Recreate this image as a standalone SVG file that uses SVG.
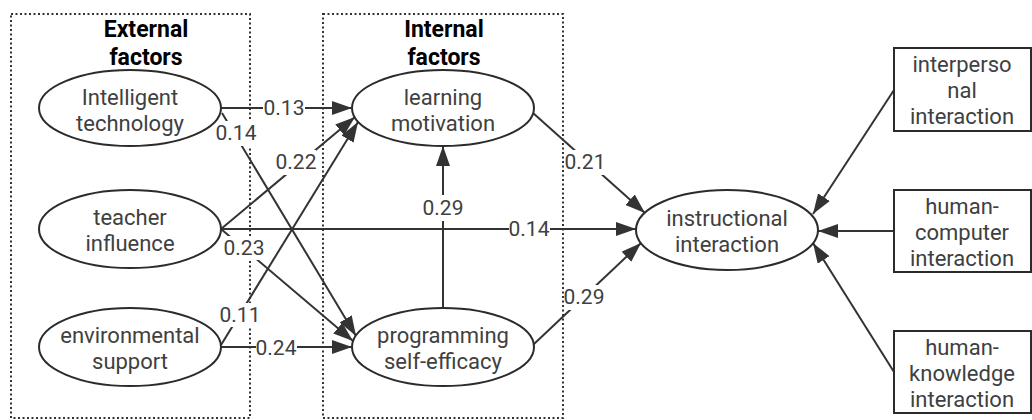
<svg xmlns="http://www.w3.org/2000/svg" width="1032" height="420" viewBox="0 0 1032 420">
<style>
.grp{fill:none;stroke:#333;stroke-width:2;stroke-dasharray:2 2.5}
.title{font-family:Roboto,"Open Sans",sans-serif;font-weight:bold;font-size:23px;fill:#000;text-anchor:middle}
.node ellipse,.node rect{fill:#fff;stroke:#2b2b2b;stroke-width:2}
.node text{font-family:Roboto,"Open Sans",sans-serif;font-size:22px;fill:#404040;text-anchor:middle}
.edge{stroke:#333;stroke-width:2;fill:none;marker-end:url(#ah)}
.lbl rect{fill:#fff;stroke:none}
.lbl text{font-family:Roboto,"Open Sans",sans-serif;font-size:21px;fill:#404040;text-anchor:middle}
</style>
<defs>
<marker id="ah" markerUnits="userSpaceOnUse" markerWidth="21" markerHeight="14" refX="20" refY="7" orient="auto">
<path d="M0,0 L20,7 L0,14 z" fill="#333"/>
</marker>
</defs>
<rect width="1032" height="420" fill="#fff"/>
<g id="groups">
<rect class="grp" x="11" y="14" width="239" height="404"/>
<rect class="grp" x="323" y="14" width="240" height="404"/>
<text class="title" x="146" y="37">External<tspan x="146" dy="28">factors</tspan></text>
<text class="title" x="444" y="37">Internal<tspan x="444" dy="28">factors</tspan></text>
</g>
<g id="connectors">
<line class="edge" x1="221" y1="108" x2="352" y2="108"/>
<line class="edge" x1="222" y1="113" x2="356" y2="336"/>
<line class="edge" x1="221" y1="229" x2="355" y2="117"/>
<line class="edge" x1="221" y1="345" x2="358" y2="122"/>
<line class="edge" x1="221" y1="347" x2="352" y2="347"/>
<line class="edge" x1="221" y1="229" x2="353" y2="341"/>
<line class="edge" x1="221" y1="229" x2="636" y2="229"/>
<line class="edge" x1="443" y1="308" x2="443" y2="146"/>
<line class="edge" x1="533" y1="113" x2="645" y2="213"/>
<line class="edge" x1="534" y1="344" x2="641" y2="243"/>
<line class="edge" x1="894" y1="90" x2="813" y2="214"/>
<line class="edge" x1="894" y1="231" x2="818" y2="231"/>
<line class="edge" x1="894" y1="372" x2="813" y2="243"/>
</g>
<g id="labels" class="lbl">
<rect x="263" y="97" width="42" height="22"/><text x="284" y="115">0.13</text>
<rect x="216" y="121" width="40" height="25"/><text x="236" y="140">0.14</text>
<rect x="276" y="150" width="40" height="25"/><text x="296" y="169">0.22</text>
<rect x="224" y="236" width="40" height="24"/><text x="244" y="255">0.23</text>
<rect x="220" y="303" width="40" height="24"/><text x="240" y="322">0.11</text>
<rect x="256" y="337" width="41" height="22"/><text x="276" y="355">0.24</text>
<rect x="423" y="195" width="40" height="26"/><text x="443" y="215">0.29</text>
<rect x="509" y="218" width="41" height="22"/><text x="529" y="236">0.14</text>
<rect x="565" y="150" width="40" height="25"/><text x="585" y="169">0.21</text>
<rect x="564" y="285" width="40" height="25"/><text x="584" y="304">0.29</text>
</g>
<g id="n-intelligent" class="node">
<ellipse cx="130" cy="108" rx="91" ry="38"/>
<text x="130" y="105">Intelligent<tspan x="130" dy="26">technology</tspan></text>
</g>
<g id="n-teacher" class="node">
<ellipse cx="130" cy="229" rx="91" ry="39"/>
<text x="130" y="225">teacher<tspan x="130" dy="26">influence</tspan></text>
</g>
<g id="n-environment" class="node">
<ellipse cx="130" cy="347" rx="91" ry="39"/>
<text x="130" y="343">environmental<tspan x="130" dy="26">support</tspan></text>
</g>
<g id="n-motivation" class="node">
<ellipse cx="443" cy="108" rx="91" ry="38"/>
<text x="443" y="105">learning<tspan x="443" dy="26">motivation</tspan></text>
</g>
<g id="n-selfefficacy" class="node">
<ellipse cx="443" cy="347" rx="91" ry="39"/>
<text x="443" y="343">programming<tspan x="443" dy="26">self-efficacy</tspan></text>
</g>
<g id="n-instructional" class="node">
<ellipse cx="727" cy="230" rx="91" ry="40"/>
<text x="727" y="226">instructional<tspan x="727" dy="26">interaction</tspan></text>
</g>
<g id="n-interpersonal" class="node">
<rect x="894" y="48" width="137" height="83"/>
<text x="962" y="72">interperso<tspan x="962" dy="26">nal</tspan><tspan x="962" dy="26">interaction</tspan></text>
</g>
<g id="n-humancomputer" class="node">
<rect x="894" y="190" width="137" height="82"/>
<text x="962" y="214">human-<tspan x="962" dy="26">computer</tspan><tspan x="962" dy="26">interaction</tspan></text>
</g>
<g id="n-humanknowledge" class="node">
<rect x="894" y="331" width="137" height="82"/>
<text x="962" y="355">human-<tspan x="962" dy="26">knowledge</tspan><tspan x="962" dy="26">interaction</tspan></text>
</g>
</svg>
